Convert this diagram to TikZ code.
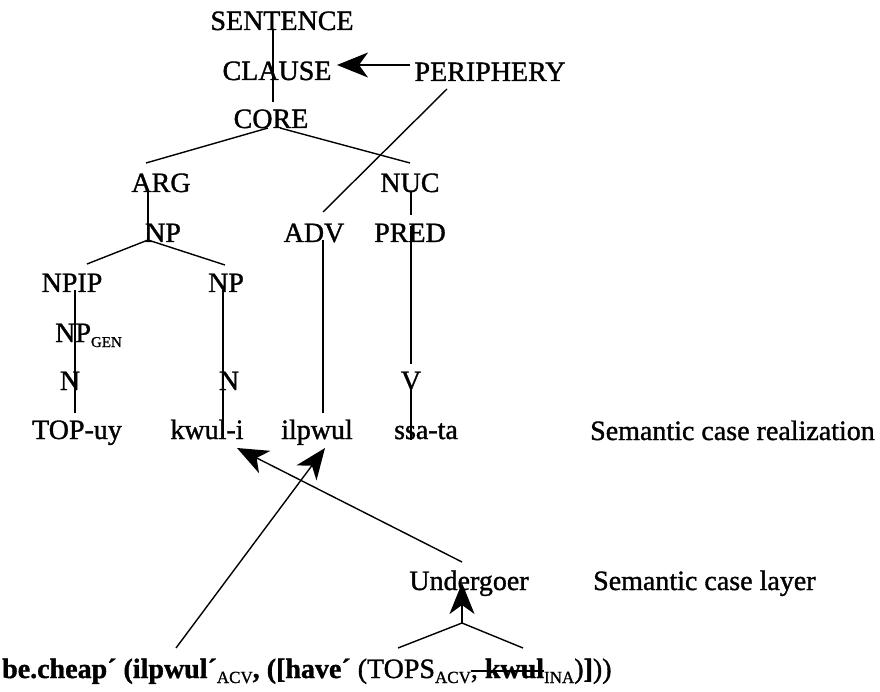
\documentclass[tikz,border=0pt]{standalone}
\usepackage{fontspec}
\setmainfont{Liberation Serif}[FakeBold=1.2]
\usetikzlibrary{calc,arrows.meta}
\newcommand{\lowtag}[2][17]{\raisebox{-5pt}{\fontsize{#1}{#1}\selectfont #2}}
\newsavebox{\strikebox}
\newcommand{\strikeit}[1]{\sbox{\strikebox}{#1}\rlap{\rule[6.5pt]{\wd\strikebox}{1.3pt}}\usebox{\strikebox}}
\tikzset{
  lbl/.style={anchor=base, inner sep=0pt, font=\fontsize{28}{30}\selectfont},
  link/.style={line width=1.4pt},
  pointer/.style={line width=1.4pt, -{Stealth[length=31pt,width=25pt,inset=9pt]}}
}
\begin{document}
\begin{tikzpicture}[x=1pt,y=-1pt]
      \useasboundingbox (0,0) rectangle (880,692);
      \draw
        (282,30) node[lbl] (sentence){SENTENCE}
        (277,80) node[lbl] (clause){CLAUSE}
        (490,81) node[lbl] (periphery){PERIPHERY}
        (271,128) node[lbl] (core){CORE}
        (161,192) node[lbl] (arg){ARG}
        (410,192) node[lbl] (nuc){NUC}
        (163,242) node[lbl] (np){NP}
        (314,242) node[lbl] (adv){ADV}
        (410,242) node[lbl] (pred){PRED}
        (72,292) node[lbl] (npip){NPIP}
        (226,292) node[lbl] (nphead){NP}
        (55,342) node[lbl,anchor=base west] (npgen){NP\lowtag[15]{GEN}}
        (70,390) node[lbl] (n1){N}
        (229,390) node[lbl] (n2){N}
        (411,390) node[lbl] (v){V}
        (77,439) node[lbl] (topuy){TOP-uy}
        (207,439) node[lbl] (kwuli){kwul-i}
        (317,439) node[lbl] (ilpwul){ilpwul}
        (426,439) node[lbl] (ssata){ssa-ta}
        (590,440) node[lbl,anchor=base west] (realization){Semantic case realization}
        (469,590) node[lbl] (undergoer){Undergoer}
        (593,590) node[lbl,anchor=base west] (layer){Semantic case layer}
        (2,678) node[lbl,anchor=base west] (formula){\textbf{be.cheap´ (ilpwul´}\lowtag{ACV}\textbf{, ([have´} (TOPS\lowtag{ACV}\strikeit{, \textbf{kwul}}\lowtag{INA})\textbf{]}))};
      \coordinate (fork) at ($(undergoer.base)+(-7,33)$);
      \coordinate (forkleft) at ($(formula.base west)+(396,-30)$);
      \coordinate (forkright) at ($(formula.base west)+(521,-30)$);
      \begin{scope}[link]
        \draw ($(sentence.base)+(-9,0)$) to ($(core.base)+(2,-26)$);
        \draw ($(core.base)+(-3,0)$) to ($(arg.base)+(-15,-29)$);
        \draw ($(core.base)+(9,0)$) to ($(nuc.base)+(0,-29)$);
        \draw ($(periphery.base)+(-43,8)$) to ($(adv.base)+(9,-30)$);
        \draw ($(arg.base)+(-13,0)$) to ($(np.base)+(-15,-2)$);
        \draw ($(nuc.base)+(1,0)$) to ($(pred.base)+(1,-27)$);
        \draw ($(np.base)+(-15,-2)$) to ($(npip.base)+(15,-28)$);
        \draw ($(np.base)+(-15,-2)$) to ($(nphead.base)+(-1,-27)$);
        \draw ($(adv.base)+(9,-2)$) to ($(ilpwul.base)+(6,-26)$);
        \draw ($(pred.base)+(1,-16)$) to ($(v.base)+(0,-26)$);
        \draw ($(v.base)+(0,-2)$) to ($(ssata.base)+(-15,1)$);
        \draw ($(npip.base)+(3,-2)$) to ($(topuy.base)+(-2,-26)$);
        \draw ($(nphead.base)+(-3,-2)$) to ($(kwuli.base)+(16,-1)$);
        \draw (fork) to (forkleft);
        \draw (fork) to (forkright);
      \end{scope}
      \begin{scope}[pointer]
        \draw ($(periphery.base)+(-80,-16)$) to ($(clause.base)+(60,-15)$);
        \draw ($(undergoer.base)+(-7,-28)$) to ($(kwuli.base)+(30,9)$);
        \draw ($(formula.base west)+(174,-30)$) to ($(ilpwul.base)+(8,9)$);
        \draw (fork) to ($(undergoer.base)+(-7,-7)$);
      \end{scope}
    \end{tikzpicture}
\end{document}
